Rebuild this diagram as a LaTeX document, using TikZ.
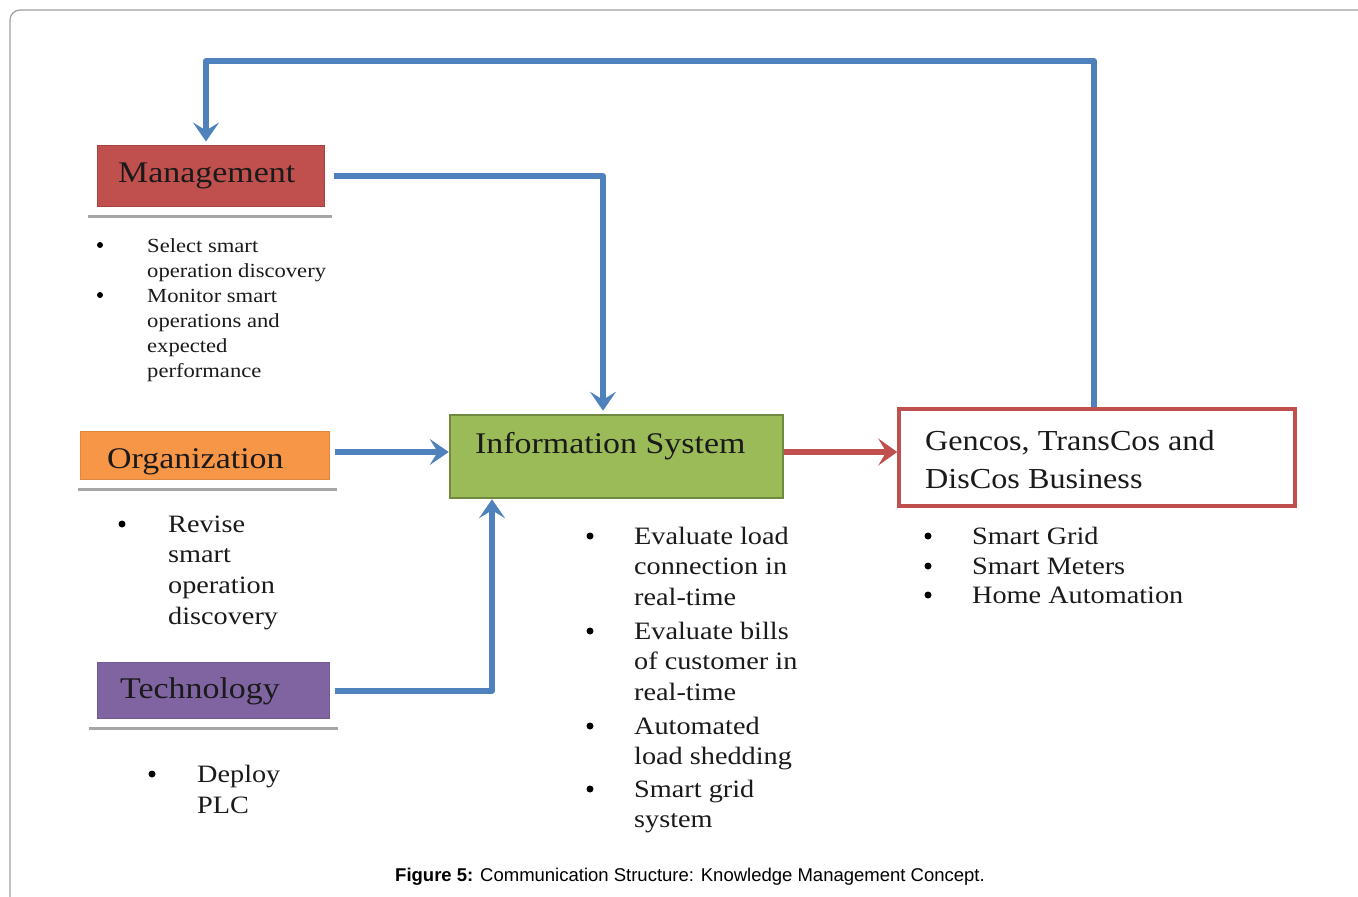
\documentclass[tikz,border=0pt]{standalone}
\usepackage{fontspec}
\setmainfont{Liberation Serif}
\setsansfont{Liberation Sans}
\usepackage{graphicx}
\usetikzlibrary{arrows.meta}
\definecolor{arrblue}{HTML}{4F81BD}
\definecolor{arrred}{HTML}{C0504D}
\definecolor{mgmtred}{HTML}{C0504D}
\definecolor{orgorange}{HTML}{F79646}
\definecolor{techpurple}{HTML}{8064A2}
\definecolor{infogreen}{HTML}{9BBB59}
\definecolor{infoborder}{HTML}{71893F}
\definecolor{framegray}{HTML}{A0A0A0}
\definecolor{shadowgray}{HTML}{A6A6A6}
\definecolor{textdark}{HTML}{1A1A1A}
\newcommand\mylines[2]{\scalebox{#1}[1]{\begin{tabular}[t]{@{}l@{}}#2\end{tabular}}}
\begin{document}
\begin{tikzpicture}[x=1pt,y=-1pt,
  box/.style={rectangle, inner sep=0pt, line width=1pt},
  lbl/.style={anchor=base west, inner sep=0pt, text=textdark, font=\fontsize{30}{36}\selectfont},
  btxt/.style={anchor=base west, inner sep=0pt, text=textdark},
  bul/.style={circle, fill=black, inner sep=0pt, minimum size=7pt},
  bulsm/.style={circle, fill=black, inner sep=0pt, minimum size=6pt},
  under/.style={draw=shadowgray, line width=3pt},
  barr/.style={draw=arrblue, line width=5.5pt, line join=round, -{Stealth[length=19pt,width=26pt,inset=8pt]}},
  rarr/.style={draw=arrred, line width=5.5pt, line join=round, -{Stealth[length=19pt,width=27pt,inset=8pt]}}
]
\path[use as bounding box] (0,0) rectangle (1358,897);
\draw[framegray, line width=1.2pt, rounded corners=10pt] (1358,10) -- (10,10) -- (10,897);

% boxes
\node[box, fill=mgmtred, draw=mgmtred!85!black, minimum width=227pt, minimum height=61pt] (mgmt) at (210.5,175.5) {};
\draw[under] (88,216) -- (332,216);
\node[lbl] (mgmtT) at (118,182) {\scalebox{1.13}[1]{Management}};

\node[box, fill=orgorange, draw=orgorange!90!black, minimum width=249pt, minimum height=48pt] (org) at (204.5,455) {};
\draw[under] (78,489) -- (337,489);
\node[lbl] (orgT) at (107,468) {\scalebox{1.13}[1]{Organization}};

\node[box, fill=techpurple, draw=techpurple!90!black, minimum width=232pt, minimum height=56pt] (tech) at (213,690) {};
\draw[under] (89,728) -- (338,728);
\node[lbl] (techT) at (120,698) {\scalebox{1.13}[1]{Technology}};

\node[box, fill=infogreen, draw=infoborder, line width=2.5pt, minimum width=333pt, minimum height=83pt] (info) at (616.5,456.5) {};
\node[lbl] (infoT) at (475,453) {\scalebox{1.13}[1]{Information System}};

\node[box, draw=arrred, fill=white, line width=3.5pt, minimum width=396pt, minimum height=97pt] (gen) at (1097,457.5) {};
\node[lbl, font=\fontsize{29}{38}\selectfont] (genT) at (925,450) {\mylines{1.11}{Gencos, TransCos and\\DisCos Business}};

% management bullets
\begin{scope}[every node/.append style={font=\fontsize{20}{25}\selectfont}]
\node[bulsm] (m1b) at (100,245) {};
\node[btxt] (m1t) at (147,252) {\mylines{1.13}{Select smart\\operation discovery}};
\node[bulsm] (m2b) at (100,295) {};
\node[btxt] (m2t) at (147,302) {\mylines{1.13}{Monitor smart\\operations and\\expected\\performance}};
\end{scope}

% organization bullets
\begin{scope}[every node/.append style={font=\fontsize{25}{30.7}\selectfont}]
\node[bul] (o1b) at (122,524) {};
\node[btxt] (o1t) at (168,532) {\mylines{1.13}{Revise\\smart\\operation\\discovery}};
\end{scope}

% technology bullets
\begin{scope}[every node/.append style={font=\fontsize{25}{31}\selectfont}]
\node[bul] (t1b) at (152,774) {};
\node[btxt] (t1t) at (197,782) {\mylines{1.13}{Deploy\\PLC}};
\end{scope}

% information system bullets
\begin{scope}[every node/.append style={font=\fontsize{25}{30.5}\selectfont}]
\node[bul] (i1b) at (590,536) {};
\node[btxt] (i1t) at (634,544) {\mylines{1.13}{Evaluate load\\connection in\\real-time}};
\node[bul] (i2b) at (590,631) {};
\node[btxt] (i2t) at (634,639) {\mylines{1.13}{Evaluate bills\\of customer in\\real-time}};
\node[bul] (i3b) at (590,726) {};
\node[btxt] (i3t) at (634,734) {\mylines{1.13}{Automated\\load shedding}};
\node[bul] (i4b) at (590,789) {};
\node[btxt] (i4t) at (634,797) {\mylines{1.13}{Smart grid\\system}};
\end{scope}

% gencos bullets
\begin{scope}[every node/.append style={font=\fontsize{25}{29.5}\selectfont}]
\node[bul] (g1b) at (928,536) {};
\node[btxt] (g1t) at (972,544) {\mylines{1.13}{Smart Grid}};
\node[bul] (g2b) at (928,566) {};
\node[btxt] (g2t) at (972,574) {\mylines{1.13}{Smart Meters}};
\node[bul] (g3b) at (928,595) {};
\node[btxt] (g3t) at (972,603) {\mylines{1.13}{Home Automation}};
\end{scope}

% caption
\node[anchor=base, inner sep=0pt, font=\sffamily\fontsize{18.5}{22}\selectfont] (cap) at (690,881) {\textbf{Figure 5:} Communication Structure: Knowledge Management Concept.};

% connectors
\coordinate (fbR) at (1094,61);
\coordinate (fbL) at (206,61);
\draw[barr, shorten >=3pt] (fbR |- gen.north) -- (fbR) -- (fbL) -- (fbL |- mgmt.north);

\coordinate (mb) at (603,176);
\draw[barr, shorten <=9pt, shorten >=3pt] (mgmt.east |- mb) -- (mb) -- (mb |- info.north);

\coordinate (oy) at (0,452);
\draw[barr, shorten <=5pt] (org.east |- oy) -- (info.west |- oy);

\coordinate (tb) at (492,691);
\draw[barr, shorten <=5pt] (tech.east |- tb) -- (tb) -- (tb |- info.south);

\draw[rarr] (info.east |- oy) -- (gen.west |- oy);
\end{tikzpicture}
\end{document}
